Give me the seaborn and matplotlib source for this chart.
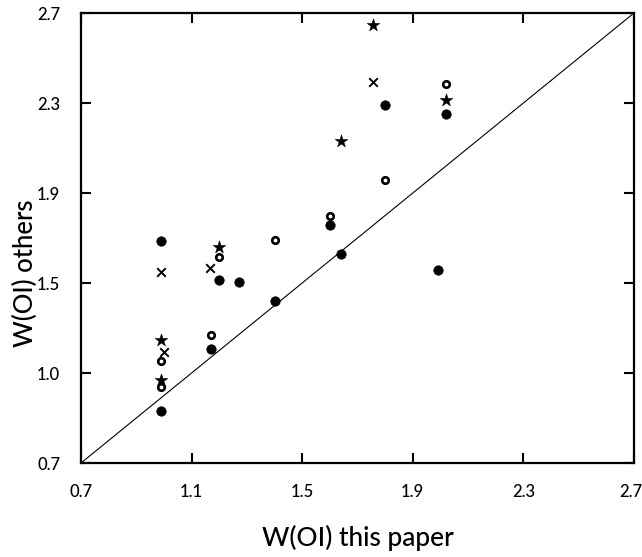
import matplotlib
matplotlib.use("Agg")
import matplotlib.pyplot as plt
import matplotlib.transforms as mtransforms
import seaborn as sns
import pandas as pd

# Equivalent widths W(OI): this paper (x) against other authors (y)
filled_x = [0.99, 0.99, 1.17, 1.20, 1.27, 1.40, 1.60, 1.64, 1.80, 1.99, 2.02]
filled_y = [1.685, 0.93, 1.205, 1.515, 1.505, 1.42, 1.76, 1.63, 2.29, 1.56, 2.25]
open_x = [0.99, 0.99, 1.17, 1.20, 1.40, 1.60, 1.80, 2.02]
open_y = [1.155, 1.04, 1.27, 1.615, 1.69, 1.80, 1.96, 2.385]
star_x = [0.99, 0.99, 1.20, 1.64, 1.755, 2.02]
star_y = [1.245, 1.07, 1.66, 2.13, 2.645, 2.315]
cross_x = [0.99, 1.00, 1.165, 1.755]
cross_y = [1.55, 1.195, 1.565, 2.395]

tick_values = [0.7, 1.1, 1.5, 1.9, 2.3, 2.7]
x_tick_labels = ["0.7", "1.1", "1.5", "1.9", "2.3", "2.7"]
y_tick_labels = ["0.7", "1.0", "1.5", "1.9", "2.3", "2.7"]
limits = [0.7, 2.7]

sns.set_style("ticks")
plt.rcParams["font.family"] = ["Lato", "DejaVu Sans"]

fig = plt.figure(figsize=(6.42, 5.57), dpi=100)
ax = fig.add_axes([81 / 642, 1 - 463 / 557, 553 / 642, 450 / 557])

def frame(xs, ys):
    return pd.DataFrame({"this": xs, "others": ys})

# one-to-one line
ax.plot(limits, limits, color="black", lw=0.8, zorder=1)

sns.scatterplot(data=frame(filled_x, filled_y), x="this", y="others", ax=ax,
                marker="o", s=46, color="black", edgecolor="black", linewidth=0.5, zorder=3)
sns.scatterplot(data=frame(open_x, open_y), x="this", y="others", ax=ax,
                marker="o", s=22, facecolor="white", edgecolor="black", linewidth=1.9, zorder=3)
sns.scatterplot(data=frame(star_x, star_y), x="this", y="others", ax=ax,
                marker="*", s=90, color="black", edgecolor="black", linewidth=0.4, zorder=3)
sns.scatterplot(data=frame(cross_x, cross_y), x="this", y="others", ax=ax,
                marker="x", s=38, color="black", linewidth=1.4, zorder=3)

ax.set_xlim(limits)
ax.set_ylim(limits)
ax.set_xticks(tick_values)
ax.set_xticklabels(x_tick_labels)
ax.set_yticks(tick_values)
ax.set_yticklabels(y_tick_labels)

ax.tick_params(axis="both", which="major", direction="in", length=7, width=1.5,
               top=True, right=True, labelsize=12, color="black", labelcolor="black")
ax.tick_params(axis="x", pad=15)
ax.tick_params(axis="y", pad=15)
for lab in ax.get_xticklabels() + ax.get_yticklabels():
    lab.set_fontweight("medium")

# keep the last x tick label inside the figure edge
last = ax.get_xticklabels()[-1]
last.set_horizontalalignment("right")
last.set_transform(last.get_transform() + mtransforms.ScaledTranslation(8 / 100, 0, fig.dpi_scale_trans))

for sp in ax.spines.values():
    sp.set_linewidth(1.6)
    sp.set_color("black")
    sp.set_visible(True)

ax.set_xlabel("W(OI) this paper", fontsize=19, color="black", fontweight="medium")
ax.set_ylabel("W(OI) others", fontsize=18.5, color="black", fontweight="medium")
ax.xaxis.label.set_verticalalignment("center")
ax.yaxis.label.set_verticalalignment("center")
ax.xaxis.set_label_coords(0.5, (463 - 538) / 450)
ax.yaxis.set_label_coords((25 - 81) / 553, (463 - 273) / 450)

fig.savefig("out.png", dpi=100, facecolor="white")
